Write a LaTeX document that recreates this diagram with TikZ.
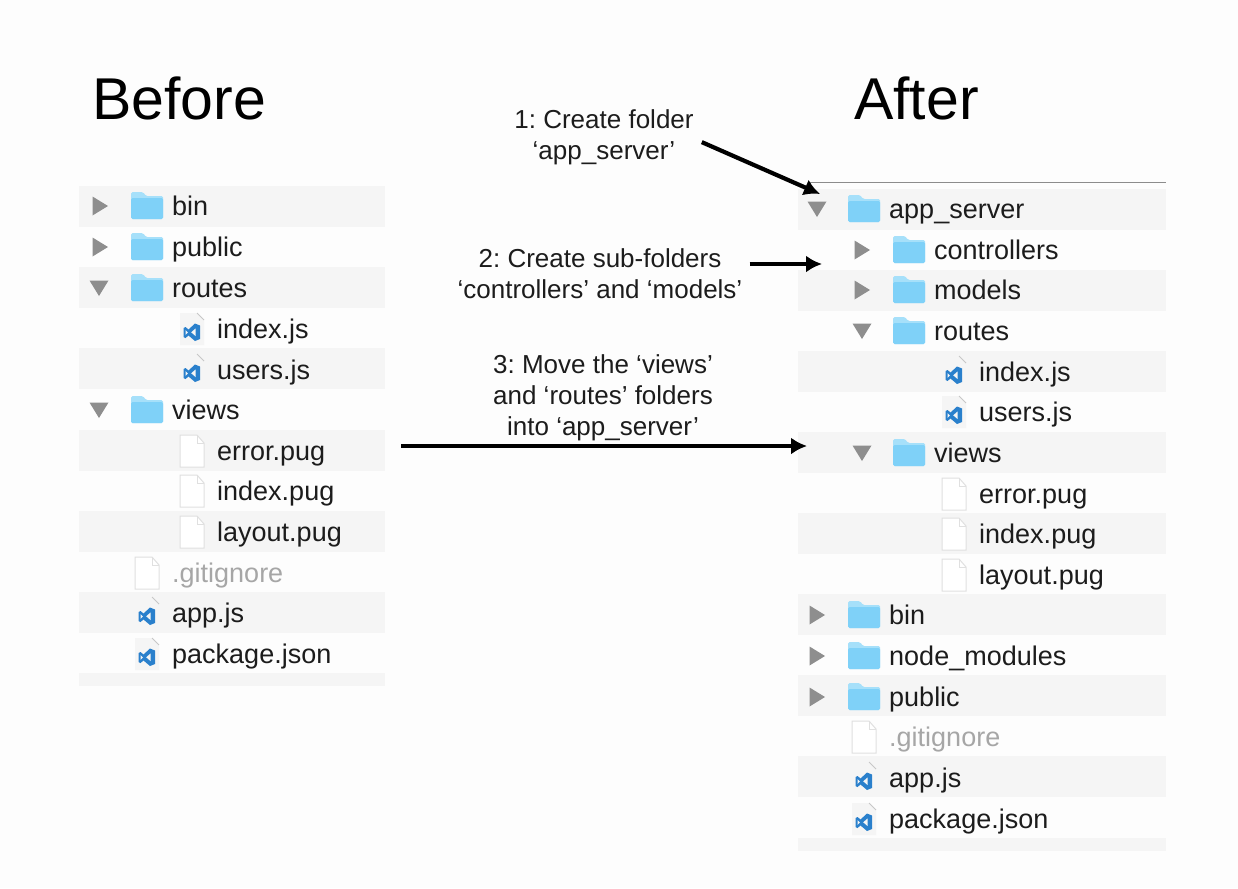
\documentclass[tikz,border=0pt]{standalone}
\usepackage{fontspec}
\setmainfont{Liberation Sans}
\usetikzlibrary{arrows.meta}

\definecolor{pagecol}{HTML}{FDFDFD}
\definecolor{bandcol}{HTML}{F5F5F5}
\definecolor{textcol}{HTML}{1C1C1C}
\definecolor{graytext}{HTML}{A6A6A6}
\definecolor{tricol}{HTML}{8E8E8E}
\definecolor{foldercol}{HTML}{7FD1F8}
\definecolor{foldertop}{HTML}{A6E0FA}
\definecolor{vscol}{HTML}{2A80CC}

\tikzset{
  title/.style={anchor=base west, inner sep=0pt, font=\fontsize{59}{60}\selectfont, text=black},
  rowlabel/.style={anchor=base west, inner sep=0pt, font=\fontsize{27}{30}\selectfont, text=textcol},
  greylabel/.style={rowlabel, text=graytext},
  note/.style={align=center, inner ysep=2pt, font=\fontsize{26}{31}\selectfont\frenchspacing, text=textcol},
  bandl/.style={anchor=north west, inner sep=0pt, minimum width=306pt, minimum height=40.5pt, fill=bandcol},
  bandr/.style={anchor=north west, inner sep=0pt, minimum width=368pt, minimum height=40.5pt, fill=bandcol},
  bigarrow/.style={-{Latex[length=16pt,width=17pt]}, line width=4.2pt, black},
  closedtri/.pic={\fill[tricol] (-7.5,-9.5) -- (8,0) -- (-7.5,9.5) -- cycle;},
  opentri/.pic={\fill[tricol] (-9.5,-7.5) -- (9.5,-7.5) -- (0,8) -- cycle;},
  folder/.pic={
    \fill[foldertop, rounded corners=1.5pt] (-16,13) -- (-16,-14) -- (-4,-14) -- (-1,-10) -- (16,-10) -- (16,13) -- cycle;
    \fill[foldercol, rounded corners=1.5pt] (-16,13) -- (-16,-8) -- (16,-8) -- (16,13) -- cycle;
  },
  plainfile/.pic={
    \filldraw[fill=white, draw=black!12, line width=1pt] (-12,-16) -- (5,-16) -- (12,-8) -- (12,16) -- (-12,16) -- cycle;
    \draw[black!12, line width=1pt] (5,-16) -- (5,-8) -- (12,-8);
  },
  vsfile/.pic={
    \fill[black!4] (-12,-16) -- (5,-16) -- (12,-8) -- (12,16) -- (-12,16) -- cycle;
    \draw[black!22, line width=.8pt] (5,-16) -- (12,-9);
    \fill[vscol] (3,-5.5) -- (8,-3.5) -- (8,10) -- (3,12) -- (-3.5,6.5) -- (-6.5,9) -- (-8.5,8) -- (-8.5,-1) -- (-6.5,-2) -- (-3.5,.5) -- cycle;
    \fill[black!4] (3.5,-.5) -- (3.5,7) -- (-.8,3.3) -- cycle;
    \fill[black!4] (-6.5,1) -- (-6.5,6) -- (-4.2,3.5) -- cycle;
  }
}

\begin{document}
\begin{tikzpicture}[x=1pt,y=-1pt]
\useasboundingbox[fill=pagecol] (0,0) rectangle (1238,888);

% before: bands
\node (lb1) at (79,186) [bandl] {};
\node (lb2) at (79,267) [bandl] {};
\node (lb3) at (79,348) [bandl] {};
\node (lb4) at (79,430) [bandl] {};
\node (lb5) at (79,511) [bandl] {};
\node (lb6) at (79,592) [bandl] {};
\node (lb7) at (79,673) [bandl, minimum height=13pt] {};

% after: bands
\draw[black!45, line width=1pt] (810,182) -- (1166,182);
\node (rb1) at (798,189) [bandr] {};
\node (rb2) at (798,270) [bandr] {};
\node (rb3) at (798,351) [bandr] {};
\node (rb4) at (798,432) [bandr] {};
\node (rb5) at (798,513) [bandr] {};
\node (rb6) at (798,594) [bandr] {};
\node (rb7) at (798,675) [bandr] {};
\node (rb8) at (798,756) [bandr] {};
\node (rb9) at (798,838) [bandr, minimum height=13pt] {};

\node (before) at (92,120) [title] {Before};
\node (after) at (854,120) [title] {After};

% before: tree
\pic at (100,206) {closedtri};
\pic at (147,206) {folder};
\node (lbin) at (172,215) [rowlabel] {bin};
\pic at (100,247) {closedtri};
\pic at (147,247) {folder};
\node (lpublic) at (172,256) [rowlabel] {public};
\pic at (99,288) {opentri};
\pic at (147,288) {folder};
\node (lroutes) at (172,297) [rowlabel] {routes};
\pic at (192,329) {vsfile};
\node (lindexjs) at (217,338) [rowlabel] {index.js};
\pic at (192,370) {vsfile};
\node (lusers) at (217,379) [rowlabel] {users.js};
\pic at (99,410) {opentri};
\pic at (147,410) {folder};
\node (lviews) at (172,419) [rowlabel] {views};
\pic at (192,451) {plainfile};
\node (lerror) at (217,460) [rowlabel] {error.pug};
\pic at (192,491) {plainfile};
\node (lindexpug) at (217,500) [rowlabel] {index.pug};
\pic at (192,532) {plainfile};
\node (llayout) at (217,541) [rowlabel] {layout.pug};
\pic at (147,573) {plainfile};
\node (lgit) at (172,582) [greylabel] {.gitignore};
\pic at (147,613) {vsfile};
\node (lapp) at (172,622) [rowlabel] {app.js};
\pic at (147,654) {vsfile};
\node (lpack) at (172,663) [rowlabel] {package.json};

% after: tree
\pic at (817,209) {opentri};
\pic at (864,209) {folder};
\node (rserver) at (889,218) [rowlabel] {app\_server};
\pic at (862,250) {closedtri};
\pic at (909,250) {folder};
\node (rcontrollers) at (934,259) [rowlabel] {controllers};
\pic at (862,290) {closedtri};
\pic at (909,290) {folder};
\node (rmodels) at (934,299) [rowlabel] {models};
\pic at (862,331) {opentri};
\pic at (909,331) {folder};
\node (rroutes) at (934,340) [rowlabel] {routes};
\pic at (954,372) {vsfile};
\node (rindexjs) at (979,381) [rowlabel] {index.js};
\pic at (954,412) {vsfile};
\node (rusers) at (979,421) [rowlabel] {users.js};
\pic at (862,453) {opentri};
\pic at (909,453) {folder};
\node (rviews) at (934,462) [rowlabel] {views};
\pic at (954,494) {plainfile};
\node (rerror) at (979,503) [rowlabel] {error.pug};
\pic at (954,534) {plainfile};
\node (rindexpug) at (979,543) [rowlabel] {index.pug};
\pic at (954,575) {plainfile};
\node (rlayout) at (979,584) [rowlabel] {layout.pug};
\pic at (817,615) {closedtri};
\pic at (864,615) {folder};
\node (rbin) at (889,624) [rowlabel] {bin};
\pic at (817,656) {closedtri};
\pic at (864,656) {folder};
\node (rnode) at (889,665) [rowlabel] {node\_modules};
\pic at (817,697) {closedtri};
\pic at (864,697) {folder};
\node (rpublic) at (889,706) [rowlabel] {public};
\pic at (864,737) {plainfile};
\node (rgit) at (889,746) [greylabel] {.gitignore};
\pic at (864,778) {vsfile};
\node (rapp) at (889,787) [rowlabel] {app.js};
\pic at (864,819) {vsfile};
\node (rpack) at (889,828) [rowlabel] {package.json};

% notes and arrows
\node (note1) at (604,137) [note, inner xsep=8pt] {1: Create folder\\‘app\_server’};
\node (note2) at (600,274) [note, inner xsep=7pt] {2: Create sub-folders\\‘controllers’ and ‘models’};
\node (note3) at (603,398) [note] {3: Move the ‘views’\\and ‘routes’ folders\\into ‘app\_server’};

\coordinate (end1) at (820,194);
\coordinate (end2) at (822,264);
\coordinate (start3) at (401,446);
\coordinate (end3) at (807,446);

\draw[bigarrow] (note1.-3) -- (end1);
\draw[bigarrow] (note2.east |- end2) -- (end2);
\draw[bigarrow, line width=3.4pt] (start3) -- (end3);
\end{tikzpicture}
\end{document}
